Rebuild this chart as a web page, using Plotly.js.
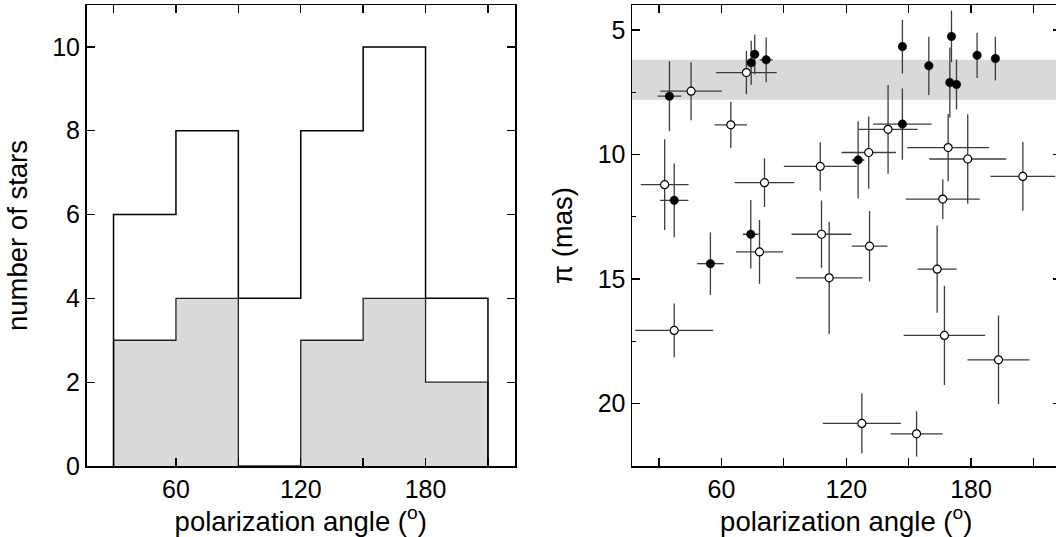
<!DOCTYPE html>
<html>
<head>
<meta charset="utf-8">
<script src="https://cdn.plot.ly/plotly-3.0.1.min.js"></script>
<style>
html, body { margin: 0; padding: 0; overflow: hidden; background: #fff; }
#chart { width: 1064px; height: 537px; }
</style>
</head>
<body>
<div id="chart"></div>
<script>
// ---------- Data ----------
// Histogram (left panel)
const binEdges = [30, 60, 90, 120, 150, 180, 210];
const countsAll = [6, 8, 4, 8, 10, 4];
const countsSub = [3, 4, 0, 3, 4, 2];

// Tick labels
const angleTickVals = [60, 120, 180];
const angleTickText = ['60', '120', '180'];
const angleMinorVals = [30, 90, 150, 210];
const countTickVals = [0, 2, 4, 6, 8, 10];
const plxTickVals = [5, 10, 15, 20];
const plxMinorVals = [7.5, 12.5, 17.5, 22.5];

// Parallax band (mas)
const bandRange = [6.2, 7.8];

// Filled points: polarization angle (deg), parallax (mas), errors
const fAngle = [35.0, 74.3, 76.0, 81.5, 147.0, 159.7, 170.6, 169.8, 173.0, 182.9, 191.7, 147.0, 125.7, 37.3, 74.1, 54.7];
const fPlx   = [7.66, 6.32, 5.98, 6.20, 5.67, 6.44, 5.26, 7.11, 7.19, 6.02, 6.15, 8.78, 10.22, 11.84, 13.20, 14.38];
const fAngErr = [5.7, 1.5, 1.5, 3.2, 1.5, 1.5, 1.5, 1.5, 1.5, 1.5, 1.5, 14.0, 3.0, 6.8, 3.8, 6.4];
const fPlxErr = [1.40, 0.89, 0.80, 0.90, 1.08, 1.17, 1.04, 1.40, 1.00, 0.91, 0.88, 1.43, 1.55, 1.48, 1.37, 1.25];

// Open points
const oAngle = [72.0, 45.4, 64.5, 140.1, 130.8, 107.5, 169.0, 178.4, 204.9, 32.7, 80.7, 166.4, 108.1, 78.3, 131.2, 111.8, 163.7, 37.3, 167.2, 193.2, 127.5, 153.8];
const oPlx   = [6.71, 7.46, 8.81, 8.99, 9.92, 10.48, 9.72, 10.18, 10.88, 11.21, 11.13, 11.79, 13.20, 13.91, 13.68, 14.95, 14.60, 17.06, 17.26, 18.24, 20.79, 21.21];
const oAngErr = [14.6, 14.8, 7.8, 14.2, 13.1, 17.5, 19.7, 18.5, 15.6, 11.5, 14.4, 17.8, 14.4, 11.3, 8.6, 16.0, 9.4, 18.75, 19.6, 14.9, 18.8, 12.5];
const oPlxErr = [0.87, 1.16, 0.93, 1.78, 1.45, 0.97, 1.35, 1.80, 1.38, 1.82, 0.98, 0.80, 1.35, 1.28, 1.41, 2.25, 1.75, 1.08, 1.99, 1.78, 1.21, 0.91];

// ---------- Build step outlines ----------
function stepOutline(edges, counts) {
  const xs = [edges[0]], ys = [0];
  for (let i = 0; i < counts.length; i++) {
    xs.push(edges[i], edges[i + 1]);
    ys.push(counts[i], counts[i]);
  }
  xs.push(edges[edges.length - 1]);
  ys.push(0);
  return {x: xs, y: ys};
}
const subStep = stepOutline(binEdges, countsSub);
const allStep = stepOutline(binEdges, countsAll);

const FONT = 'Liberation Sans, Arial, Helvetica, sans-serif';
const errStyle = {color: '#3c3c3c', thickness: 1.3, width: 0};

const traces = [
  {
    x: subStep.x, y: subStep.y, xaxis: 'x', yaxis: 'y',
    type: 'scatter', mode: 'lines', fill: 'tozeroy', fillcolor: '#dadada',
    line: {color: '#222', width: 1.3}, hoverinfo: 'skip'
  },
  {
    x: allStep.x, y: allStep.y, xaxis: 'x', yaxis: 'y',
    type: 'scatter', mode: 'lines',
    line: {color: '#000', width: 1.5}, hoverinfo: 'skip'
  },
  {
    x: oAngle, y: oPlx, xaxis: 'x2', yaxis: 'y2',
    type: 'scatter', mode: 'markers',
    marker: {symbol: 'circle', size: 8, color: '#fff', line: {color: '#000', width: 1.2}},
    error_x: Object.assign({type: 'data', array: oAngErr, visible: true}, errStyle),
    error_y: Object.assign({type: 'data', array: oPlxErr, visible: true}, errStyle),
    cliponaxis: true
  },
  {
    x: fAngle, y: fPlx, xaxis: 'x2', yaxis: 'y2',
    type: 'scatter', mode: 'markers',
    marker: {symbol: 'circle', size: 8.5, color: '#000', line: {color: '#000', width: 0.5}},
    error_x: Object.assign({type: 'data', array: fAngErr, visible: true}, errStyle),
    error_y: Object.assign({type: 'data', array: fPlxErr, visible: true}, errStyle),
    cliponaxis: true
  }
];

const W = 1064;
const TITLE_FONT = {family: FONT, size: 27.5, color: '#000'};
const axisCommon = {
  showline: true, linecolor: '#000', linewidth: 1.5,
  ticks: 'inside', ticklen: 8, tickwidth: 1.3, tickcolor: '#000',
  mirror: 'allticks', showgrid: false, zeroline: false,
  tickfont: {family: FONT, size: 25, color: '#000'}
};
const angleMinor = {tickmode: 'array', tickvals: angleMinorVals, ticks: 'inside', ticklen: 8, tickwidth: 1.3, tickcolor: '#000'};

const layout = {
  width: W, height: 537,
  margin: {l: 0, r: 0, t: 5, b: 71},
  paper_bgcolor: '#fff', plot_bgcolor: '#fff',
  showlegend: false,
  font: {family: FONT, color: '#000'},
  xaxis: Object.assign({}, axisCommon, {
    domain: [86.5 / W, 515 / W], range: [17, 223], anchor: 'y',
    tickmode: 'array', tickvals: angleTickVals, ticktext: angleTickText,
    minor: angleMinor,
    title: {text: 'polarization angle (<sup>o</sup>)', font: TITLE_FONT, standoff: 5}
  }),
  yaxis: Object.assign({}, axisCommon, {
    domain: [0, 1], range: [0, 11], anchor: 'x',
    tickmode: 'array', tickvals: countTickVals,
    title: {text: 'number of stars', font: TITLE_FONT, standoff: 16}
  }),
  xaxis2: Object.assign({}, axisCommon, {
    domain: [632 / W, 1060.5 / W], range: [17, 223], anchor: 'y2',
    tickmode: 'array', tickvals: angleTickVals, ticktext: angleTickText,
    minor: angleMinor,
    title: {text: 'polarization angle (<sup>o</sup>)', font: TITLE_FONT, standoff: 5}
  }),
  yaxis2: Object.assign({}, axisCommon, {
    domain: [0, 1], range: [22.5, 4], anchor: 'x2',
    tickmode: 'array', tickvals: plxTickVals,
    minor: {tickmode: 'array', tickvals: plxMinorVals, ticks: 'inside', ticklen: 4, tickwidth: 1.3, tickcolor: '#000'},
    title: {text: 'π (mas)', font: TITLE_FONT, standoff: 17}
  }),
  shapes: [{
    type: 'rect', xref: 'x2 domain', yref: 'y2', x0: 0, x1: 1,
    y0: bandRange[0], y1: bandRange[1],
    fillcolor: '#d9d9d9', line: {width: 0}, layer: 'below'
  }]
};

Plotly.newPlot('chart', traces, layout, {staticPlot: true, displayModeBar: false});
</script>
</body>
</html>
